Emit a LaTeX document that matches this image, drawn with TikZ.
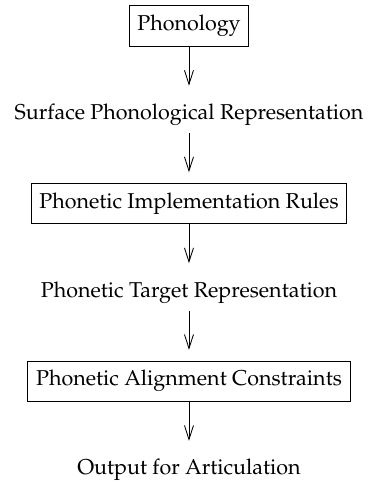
\documentclass[tikz,border=0pt]{standalone}
\usepackage[T1]{fontenc}
\usepackage{mathpazo}
\usetikzlibrary{arrows.meta}

\tikzset{
  stage/.style={draw, line width=0.5pt, inner xsep=3.8pt, inner ysep=4.3pt},
  level/.style={inner sep=3.33pt},
  flow/.style={-{Straight Barb[length=6.5pt,width=4.2pt]}, line width=0.4pt, shorten >=5pt}
}

\begin{document}
\begin{tikzpicture}[x=1pt,y=1pt]
  \useasboundingbox (-87.9,12.1) rectangle (85.6,-212.1);

  \node[stage] (phon)  at (0,0)      {Phonology};
  \node[level] (surf)  at (0,-41.3)  {Surface Phonological Representation};
  \node[stage] (impl)  at (0,-82.6)  {Phonetic Implementation Rules};
  \node[level] (targ)  at (0,-123.9) {Phonetic Target Representation};
  \node[stage] (align) at (0,-165.2) {Phonetic Alignment Constraints};
  \node[level] (out)   at (0,-206.5) {Output for Articulation};

  \draw[flow] (phon) -- (surf);
  \draw[flow] (surf) -- (impl);
  \draw[flow] (impl) -- (targ);
  \draw[flow] (targ) -- (align);
  \draw[flow] (align) -- (out);
\end{tikzpicture}
\end{document}
